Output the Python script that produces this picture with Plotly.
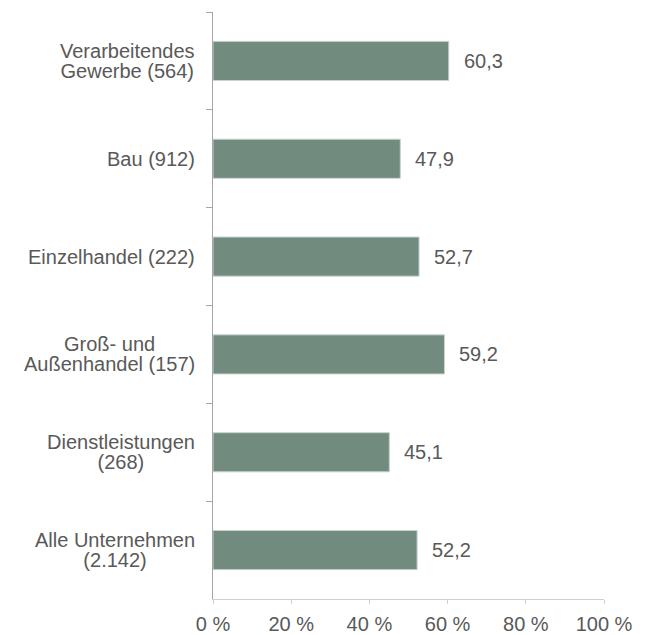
import plotly.graph_objects as go

categories = [
    "Verarbeitendes<br>Gewerbe (564)",
    "Bau (912)",
    "Einzelhandel (222)",
    "Groß- und<br>Außenhandel (157)",
    "Dienstleistungen<br>(268)",
    "Alle Unternehmen<br>(2.142)",
]
values = [60.3, 47.9, 52.7, 59.2, 45.1, 52.2]
value_labels = ["60,3", "47,9", "52,7", "59,2", "45,1", "52,2"]
x_tickvals = [0, 20, 40, 60, 80, 100]
x_ticktext = ["0 %", "20 %", "40 %", "60 %", "80 %", "100 %"]

FONT = "Liberation Sans, Arial, sans-serif"
TXT = "#595959"
BAR = "#728b7f"
FS = 20


def tight(label):
    # wrap each line so text is FS px while line spacing stays compact
    return "<br>".join('<span style="font-size:%dpx">%s</span>' % (FS, p) for p in label.split("<br>"))


fig = go.Figure(
    go.Bar(
        x=values,
        y=categories,
        orientation="h",
        marker=dict(color=BAR, line=dict(color="#c9d3ce", width=1)),
        width=0.4,
        hoverinfo="skip",
    )
)

annotations = []
for cat, v, lab in zip(categories, values, value_labels):
    annotations.append(dict(
        x=v, y=cat, xref="x", yref="y", text=lab, showarrow=False,
        xanchor="left", yanchor="middle", xshift=13,
        font=dict(family=FONT, size=FS, color=TXT),
    ))
    annotations.append(dict(
        x=0, y=cat, xref="paper", yref="y", text=tight(cat), showarrow=False,
        xanchor="right", yanchor="middle", align="center", xshift=-16,
        font=dict(family=FONT, size=15.5, color=TXT),
    ))

fig.update_layout(
    width=637, height=627,
    margin=dict(l=205, r=41, t=4, b=36, autoexpand=False),
    paper_bgcolor="white", plot_bgcolor="white",
    showlegend=False,
    font=dict(family=FONT, size=FS, color=TXT),
    annotations=annotations,
    xaxis=dict(
        range=[0, 100], tickvals=x_tickvals, ticktext=x_ticktext,
        showgrid=False, zeroline=False, showline=True, linecolor="#d0d0d0", linewidth=1,
        ticks="outside", ticklen=4, tickcolor="#d0d0d0", ticklabelstandoff=3,
        tickfont=dict(family=FONT, size=FS, color=TXT),
        automargin=False, fixedrange=True,
    ),
    yaxis=dict(
        type="category", autorange="reversed", categoryorder="array", categoryarray=categories,
        showgrid=False, zeroline=False, showline=True, linecolor="#a6a6a6", linewidth=1,
        ticks="outside", tickson="boundaries", ticklen=6, tickcolor="#a6a6a6",
        showticklabels=False, automargin=False, fixedrange=True,
    ),
)

fig.write_html("out.html")
